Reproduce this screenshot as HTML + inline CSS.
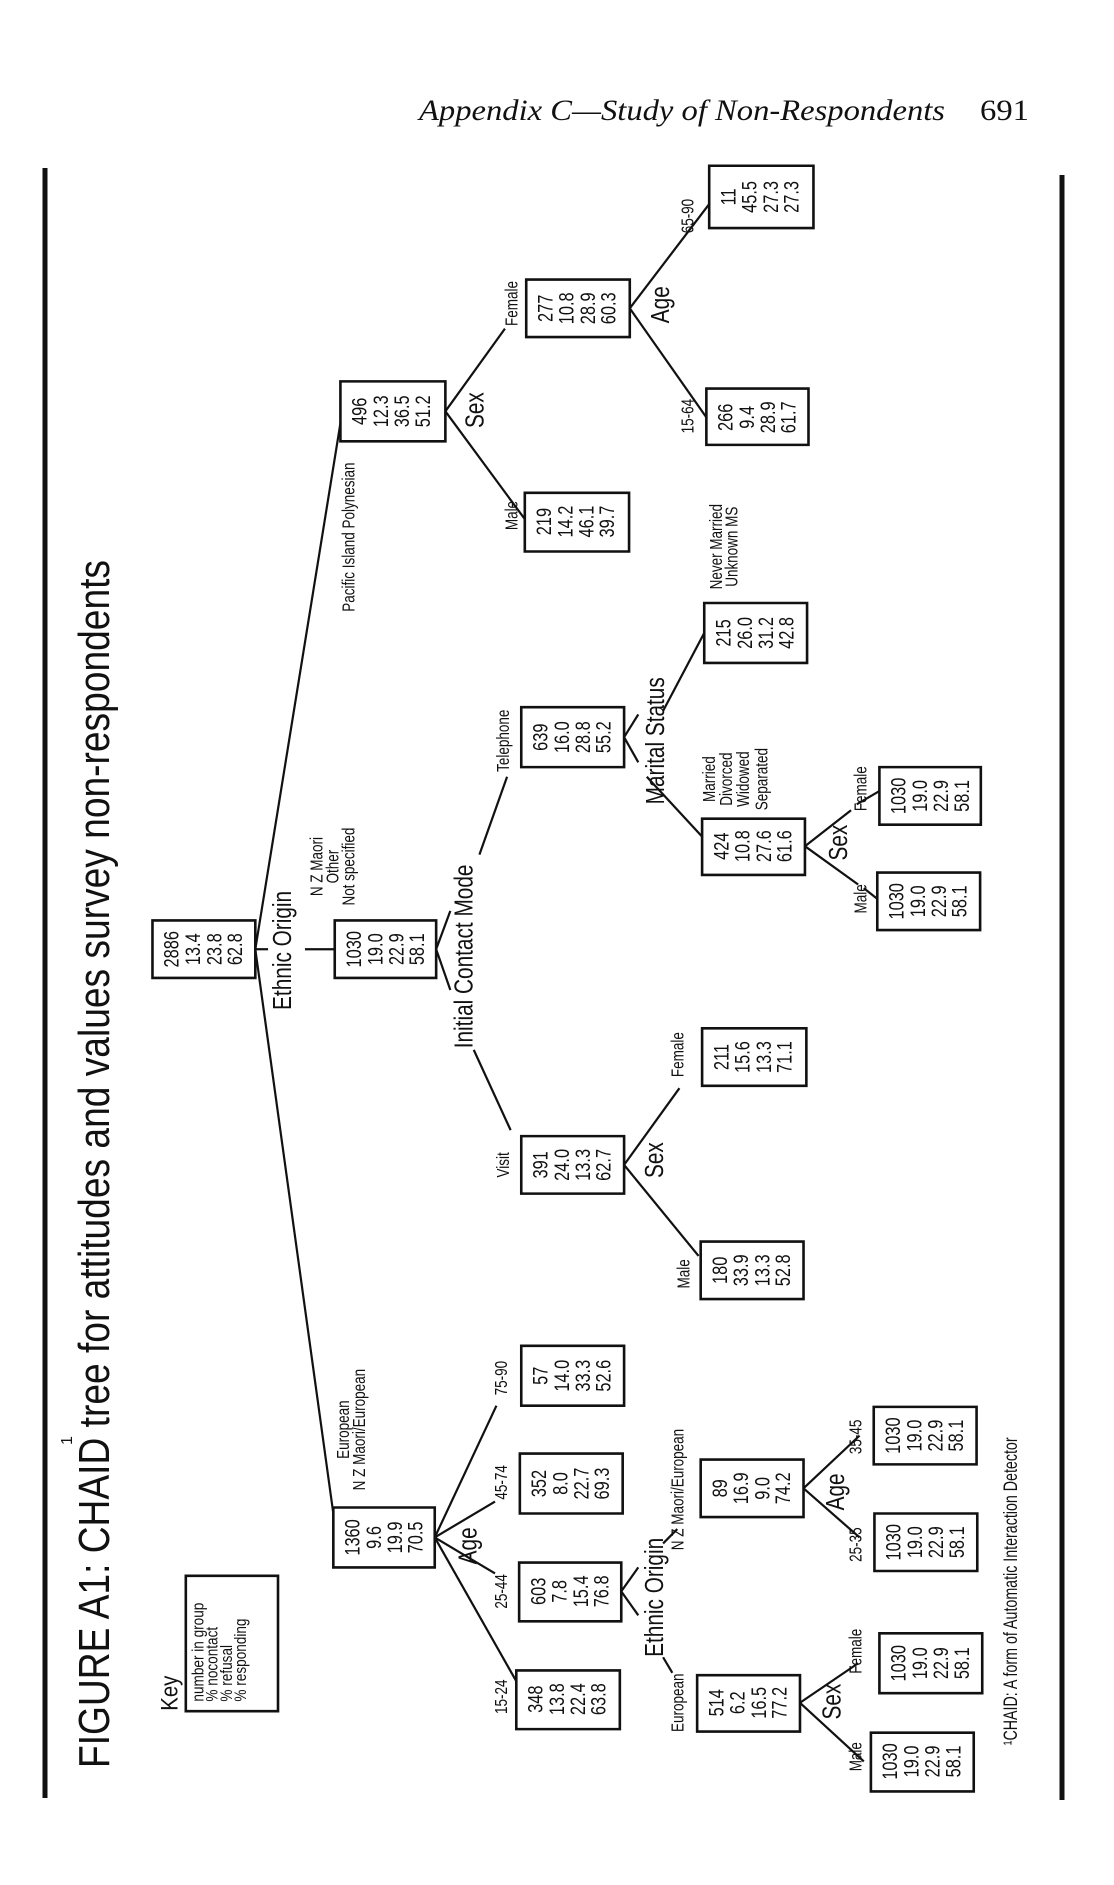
<!DOCTYPE html>
<html><head><meta charset="utf-8"><style>
html,body{margin:0;padding:0;background:#fff;}
svg{display:block;}
text{font-family:"Liberation Sans",sans-serif;fill:#111;}
.b{font-size:21px;text-anchor:middle;}
.l{font-size:18px;text-anchor:middle;}
.m{font-size:26px;text-anchor:middle;}
rect,line,polyline{fill:none;stroke:#111;vector-effect:non-scaling-stroke;}
rect{stroke-width:2.6;}
line,polyline{stroke-width:2.2;}
</style></head><body>
<svg width="1114" height="1885" viewBox="0 0 1114 1885" xmlns="http://www.w3.org/2000/svg">
<text x="419" y="120" font-style="italic" font-size="30" textLength="526" lengthAdjust="spacingAndGlyphs" style="font-family:'Liberation Serif',serif">Appendix C—Study of Non-Respondents</text>
<text x="980" y="120" font-size="30" textLength="49" lengthAdjust="spacingAndGlyphs" style="font-family:'Liberation Serif',serif">691</text>
<line x1="45" y1="168" x2="45" y2="1798" style="stroke-width:5"/>
<line x1="1062" y1="175" x2="1062" y2="1800" style="stroke-width:5"/>
<text transform="translate(109,1768) rotate(-90)" font-size="44" textLength="1208" lengthAdjust="spacingAndGlyphs">FIGURE A1: CHAID  tree for attitudes and values survey non-respondents</text>
<text transform="translate(72,1445) rotate(-90)" font-size="16">1</text>

<g transform="translate(0,10) scale(0.7092,1.198)">
<rect x="215" y="760" width="145" height="48"/>
<rect x="472" y="760" width="143" height="48"/>
<rect x="470" y="1250" width="143" height="50"/>
<rect x="480" y="310" width="148" height="50"/>
<rect x="740" y="403" width="147" height="49"/>
<rect x="742" y="225" width="146" height="48"/>
<rect x="1000" y="130" width="147" height="52"/>
<rect x="996" y="316" width="144" height="47"/>
<rect x="735" y="582" width="145" height="50"/>
<rect x="993" y="495" width="145" height="50"/>
<rect x="990" y="675" width="145" height="47"/>
<rect x="1237" y="720" width="145" height="48"/>
<rect x="1240" y="632" width="143" height="48"/>
<rect x="735" y="940" width="145" height="48"/>
<rect x="990" y="850" width="147" height="48"/>
<rect x="988" y="1028" width="145" height="48"/>
<rect x="735" y="1115" width="145" height="50"/>
<rect x="733" y="1205" width="145" height="50"/>
<rect x="732" y="1296" width="144" height="49"/>
<rect x="728" y="1386" width="146" height="49"/>
<rect x="988" y="1210" width="145" height="48"/>
<rect x="1233" y="1255" width="145" height="48"/>
<rect x="1232" y="1166" width="145" height="48"/>
<rect x="983" y="1390" width="145" height="47"/>
<rect x="1240" y="1355" width="145" height="50"/>
<rect x="1228" y="1438" width="145" height="49"/>
<rect x="262" y="1307" width="130" height="113"/>

<line x1="360" y1="784" x2="378" y2="784"/>
<line x1="430" y1="784" x2="472" y2="784"/>
<line x1="360" y1="784" x2="480" y2="345"/>
<line x1="360" y1="784" x2="470" y2="1255"/>
<line x1="615" y1="784" x2="635" y2="752"/>
<line x1="615" y1="784" x2="635" y2="818"/>
<line x1="676" y1="705" x2="715" y2="640"/>
<line x1="668" y1="868" x2="720" y2="935"/>
<line x1="628" y1="335" x2="712" y2="266"/>
<line x1="628" y1="335" x2="740" y2="425"/>
<line x1="888" y1="249" x2="1000" y2="162"/>
<line x1="888" y1="249" x2="996" y2="340"/>
<line x1="880" y1="607" x2="900" y2="588"/>
<line x1="880" y1="607" x2="900" y2="628"/>
<line x1="935" y1="585" x2="993" y2="520"/>
<line x1="912" y1="640" x2="990" y2="690"/>
<line x1="1135" y1="698" x2="1200" y2="668"/>
<line x1="1135" y1="698" x2="1210" y2="730"/>
<line x1="1208" y1="663" x2="1240" y2="652"/>
<line x1="1218" y1="733" x2="1237" y2="742"/>
<line x1="880" y1="964" x2="958" y2="900"/>
<line x1="880" y1="964" x2="985" y2="1040"/>
<line x1="613" y1="1275" x2="700" y2="1165"/>
<line x1="613" y1="1275" x2="698" y2="1245"/>
<line x1="613" y1="1275" x2="698" y2="1305"/>
<line x1="613" y1="1275" x2="728" y2="1395"/>
<line x1="876" y1="1320" x2="900" y2="1300"/>
<line x1="876" y1="1320" x2="900" y2="1340"/>
<line x1="935" y1="1280" x2="955" y2="1268"/>
<line x1="935" y1="1375" x2="948" y2="1388"/>
<line x1="1133" y1="1234" x2="1212" y2="1190"/>
<line x1="1133" y1="1234" x2="1212" y2="1275"/>
<line x1="1128" y1="1413" x2="1210" y2="1380"/>
<line x1="1128" y1="1413" x2="1218" y2="1462"/>

<g transform="translate(215,784)"><text class="b" transform="translate(37,0) scale(1.41,0.8347) rotate(-90) scale(0.78,1)">2886</text><text class="b" transform="translate(67,0) scale(1.41,0.8347) rotate(-90) scale(0.78,1)">13.4</text><text class="b" transform="translate(97,0) scale(1.41,0.8347) rotate(-90) scale(0.78,1)">23.8</text><text class="b" transform="translate(126,0) scale(1.41,0.8347) rotate(-90) scale(0.78,1)">62.8</text></g>
<g transform="translate(472,784)"><text class="b" transform="translate(37,0) scale(1.41,0.8347) rotate(-90) scale(0.78,1)">1030</text><text class="b" transform="translate(67,0) scale(1.41,0.8347) rotate(-90) scale(0.78,1)">19.0</text><text class="b" transform="translate(97,0) scale(1.41,0.8347) rotate(-90) scale(0.78,1)">22.9</text><text class="b" transform="translate(126,0) scale(1.41,0.8347) rotate(-90) scale(0.78,1)">58.1</text></g>
<g transform="translate(470,1275)"><text class="b" transform="translate(37,0) scale(1.41,0.8347) rotate(-90) scale(0.78,1)">1360</text><text class="b" transform="translate(67,0) scale(1.41,0.8347) rotate(-90) scale(0.78,1)">9.6</text><text class="b" transform="translate(97,0) scale(1.41,0.8347) rotate(-90) scale(0.78,1)">19.9</text><text class="b" transform="translate(126,0) scale(1.41,0.8347) rotate(-90) scale(0.78,1)">70.5</text></g>
<g transform="translate(480,335)"><text class="b" transform="translate(37,0) scale(1.41,0.8347) rotate(-90) scale(0.78,1)">496</text><text class="b" transform="translate(67,0) scale(1.41,0.8347) rotate(-90) scale(0.78,1)">12.3</text><text class="b" transform="translate(97,0) scale(1.41,0.8347) rotate(-90) scale(0.78,1)">36.5</text><text class="b" transform="translate(126,0) scale(1.41,0.8347) rotate(-90) scale(0.78,1)">51.2</text></g>
<g transform="translate(740,427)"><text class="b" transform="translate(37,0) scale(1.41,0.8347) rotate(-90) scale(0.78,1)">219</text><text class="b" transform="translate(67,0) scale(1.41,0.8347) rotate(-90) scale(0.78,1)">14.2</text><text class="b" transform="translate(97,0) scale(1.41,0.8347) rotate(-90) scale(0.78,1)">46.1</text><text class="b" transform="translate(126,0) scale(1.41,0.8347) rotate(-90) scale(0.78,1)">39.7</text></g>
<g transform="translate(742,249)"><text class="b" transform="translate(37,0) scale(1.41,0.8347) rotate(-90) scale(0.78,1)">277</text><text class="b" transform="translate(67,0) scale(1.41,0.8347) rotate(-90) scale(0.78,1)">10.8</text><text class="b" transform="translate(97,0) scale(1.41,0.8347) rotate(-90) scale(0.78,1)">28.9</text><text class="b" transform="translate(126,0) scale(1.41,0.8347) rotate(-90) scale(0.78,1)">60.3</text></g>
<g transform="translate(1000,156)"><text class="b" transform="translate(37,0) scale(1.41,0.8347) rotate(-90) scale(0.78,1)">11</text><text class="b" transform="translate(67,0) scale(1.41,0.8347) rotate(-90) scale(0.78,1)">45.5</text><text class="b" transform="translate(97,0) scale(1.41,0.8347) rotate(-90) scale(0.78,1)">27.3</text><text class="b" transform="translate(126,0) scale(1.41,0.8347) rotate(-90) scale(0.78,1)">27.3</text></g>
<g transform="translate(996,340)"><text class="b" transform="translate(37,0) scale(1.41,0.8347) rotate(-90) scale(0.78,1)">266</text><text class="b" transform="translate(67,0) scale(1.41,0.8347) rotate(-90) scale(0.78,1)">9.4</text><text class="b" transform="translate(97,0) scale(1.41,0.8347) rotate(-90) scale(0.78,1)">28.9</text><text class="b" transform="translate(126,0) scale(1.41,0.8347) rotate(-90) scale(0.78,1)">61.7</text></g>
<g transform="translate(735,607)"><text class="b" transform="translate(37,0) scale(1.41,0.8347) rotate(-90) scale(0.78,1)">639</text><text class="b" transform="translate(67,0) scale(1.41,0.8347) rotate(-90) scale(0.78,1)">16.0</text><text class="b" transform="translate(97,0) scale(1.41,0.8347) rotate(-90) scale(0.78,1)">28.8</text><text class="b" transform="translate(126,0) scale(1.41,0.8347) rotate(-90) scale(0.78,1)">55.2</text></g>
<g transform="translate(993,520)"><text class="b" transform="translate(37,0) scale(1.41,0.8347) rotate(-90) scale(0.78,1)">215</text><text class="b" transform="translate(67,0) scale(1.41,0.8347) rotate(-90) scale(0.78,1)">26.0</text><text class="b" transform="translate(97,0) scale(1.41,0.8347) rotate(-90) scale(0.78,1)">31.2</text><text class="b" transform="translate(126,0) scale(1.41,0.8347) rotate(-90) scale(0.78,1)">42.8</text></g>
<g transform="translate(990,698)"><text class="b" transform="translate(37,0) scale(1.41,0.8347) rotate(-90) scale(0.78,1)">424</text><text class="b" transform="translate(67,0) scale(1.41,0.8347) rotate(-90) scale(0.78,1)">10.8</text><text class="b" transform="translate(97,0) scale(1.41,0.8347) rotate(-90) scale(0.78,1)">27.6</text><text class="b" transform="translate(126,0) scale(1.41,0.8347) rotate(-90) scale(0.78,1)">61.6</text></g>
<g transform="translate(1237,744)"><text class="b" transform="translate(37,0) scale(1.41,0.8347) rotate(-90) scale(0.78,1)">1030</text><text class="b" transform="translate(67,0) scale(1.41,0.8347) rotate(-90) scale(0.78,1)">19.0</text><text class="b" transform="translate(97,0) scale(1.41,0.8347) rotate(-90) scale(0.78,1)">22.9</text><text class="b" transform="translate(126,0) scale(1.41,0.8347) rotate(-90) scale(0.78,1)">58.1</text></g>
<g transform="translate(1240,656)"><text class="b" transform="translate(37,0) scale(1.41,0.8347) rotate(-90) scale(0.78,1)">1030</text><text class="b" transform="translate(67,0) scale(1.41,0.8347) rotate(-90) scale(0.78,1)">19.0</text><text class="b" transform="translate(97,0) scale(1.41,0.8347) rotate(-90) scale(0.78,1)">22.9</text><text class="b" transform="translate(126,0) scale(1.41,0.8347) rotate(-90) scale(0.78,1)">58.1</text></g>
<g transform="translate(735,964)"><text class="b" transform="translate(37,0) scale(1.41,0.8347) rotate(-90) scale(0.78,1)">391</text><text class="b" transform="translate(67,0) scale(1.41,0.8347) rotate(-90) scale(0.78,1)">24.0</text><text class="b" transform="translate(97,0) scale(1.41,0.8347) rotate(-90) scale(0.78,1)">13.3</text><text class="b" transform="translate(126,0) scale(1.41,0.8347) rotate(-90) scale(0.78,1)">62.7</text></g>
<g transform="translate(990,874)"><text class="b" transform="translate(37,0) scale(1.41,0.8347) rotate(-90) scale(0.78,1)">211</text><text class="b" transform="translate(67,0) scale(1.41,0.8347) rotate(-90) scale(0.78,1)">15.6</text><text class="b" transform="translate(97,0) scale(1.41,0.8347) rotate(-90) scale(0.78,1)">13.3</text><text class="b" transform="translate(126,0) scale(1.41,0.8347) rotate(-90) scale(0.78,1)">71.1</text></g>
<g transform="translate(988,1052)"><text class="b" transform="translate(37,0) scale(1.41,0.8347) rotate(-90) scale(0.78,1)">180</text><text class="b" transform="translate(67,0) scale(1.41,0.8347) rotate(-90) scale(0.78,1)">33.9</text><text class="b" transform="translate(97,0) scale(1.41,0.8347) rotate(-90) scale(0.78,1)">13.3</text><text class="b" transform="translate(126,0) scale(1.41,0.8347) rotate(-90) scale(0.78,1)">52.8</text></g>
<g transform="translate(735,1140)"><text class="b" transform="translate(37,0) scale(1.41,0.8347) rotate(-90) scale(0.78,1)">57</text><text class="b" transform="translate(67,0) scale(1.41,0.8347) rotate(-90) scale(0.78,1)">14.0</text><text class="b" transform="translate(97,0) scale(1.41,0.8347) rotate(-90) scale(0.78,1)">33.3</text><text class="b" transform="translate(126,0) scale(1.41,0.8347) rotate(-90) scale(0.78,1)">52.6</text></g>
<g transform="translate(733,1230)"><text class="b" transform="translate(37,0) scale(1.41,0.8347) rotate(-90) scale(0.78,1)">352</text><text class="b" transform="translate(67,0) scale(1.41,0.8347) rotate(-90) scale(0.78,1)">8.0</text><text class="b" transform="translate(97,0) scale(1.41,0.8347) rotate(-90) scale(0.78,1)">22.7</text><text class="b" transform="translate(126,0) scale(1.41,0.8347) rotate(-90) scale(0.78,1)">69.3</text></g>
<g transform="translate(732,1320)"><text class="b" transform="translate(37,0) scale(1.41,0.8347) rotate(-90) scale(0.78,1)">603</text><text class="b" transform="translate(67,0) scale(1.41,0.8347) rotate(-90) scale(0.78,1)">7.8</text><text class="b" transform="translate(97,0) scale(1.41,0.8347) rotate(-90) scale(0.78,1)">15.4</text><text class="b" transform="translate(126,0) scale(1.41,0.8347) rotate(-90) scale(0.78,1)">76.8</text></g>
<g transform="translate(728,1410)"><text class="b" transform="translate(37,0) scale(1.41,0.8347) rotate(-90) scale(0.78,1)">348</text><text class="b" transform="translate(67,0) scale(1.41,0.8347) rotate(-90) scale(0.78,1)">13.8</text><text class="b" transform="translate(97,0) scale(1.41,0.8347) rotate(-90) scale(0.78,1)">22.4</text><text class="b" transform="translate(126,0) scale(1.41,0.8347) rotate(-90) scale(0.78,1)">63.8</text></g>
<g transform="translate(988,1234)"><text class="b" transform="translate(37,0) scale(1.41,0.8347) rotate(-90) scale(0.78,1)">89</text><text class="b" transform="translate(67,0) scale(1.41,0.8347) rotate(-90) scale(0.78,1)">16.9</text><text class="b" transform="translate(97,0) scale(1.41,0.8347) rotate(-90) scale(0.78,1)">9.0</text><text class="b" transform="translate(126,0) scale(1.41,0.8347) rotate(-90) scale(0.78,1)">74.2</text></g>
<g transform="translate(1233,1279)"><text class="b" transform="translate(37,0) scale(1.41,0.8347) rotate(-90) scale(0.78,1)">1030</text><text class="b" transform="translate(67,0) scale(1.41,0.8347) rotate(-90) scale(0.78,1)">19.0</text><text class="b" transform="translate(97,0) scale(1.41,0.8347) rotate(-90) scale(0.78,1)">22.9</text><text class="b" transform="translate(126,0) scale(1.41,0.8347) rotate(-90) scale(0.78,1)">58.1</text></g>
<g transform="translate(1232,1190)"><text class="b" transform="translate(37,0) scale(1.41,0.8347) rotate(-90) scale(0.78,1)">1030</text><text class="b" transform="translate(67,0) scale(1.41,0.8347) rotate(-90) scale(0.78,1)">19.0</text><text class="b" transform="translate(97,0) scale(1.41,0.8347) rotate(-90) scale(0.78,1)">22.9</text><text class="b" transform="translate(126,0) scale(1.41,0.8347) rotate(-90) scale(0.78,1)">58.1</text></g>
<g transform="translate(983,1413)"><text class="b" transform="translate(37,0) scale(1.41,0.8347) rotate(-90) scale(0.78,1)">514</text><text class="b" transform="translate(67,0) scale(1.41,0.8347) rotate(-90) scale(0.78,1)">6.2</text><text class="b" transform="translate(97,0) scale(1.41,0.8347) rotate(-90) scale(0.78,1)">16.5</text><text class="b" transform="translate(126,0) scale(1.41,0.8347) rotate(-90) scale(0.78,1)">77.2</text></g>
<g transform="translate(1240,1380)"><text class="b" transform="translate(37,0) scale(1.41,0.8347) rotate(-90) scale(0.78,1)">1030</text><text class="b" transform="translate(67,0) scale(1.41,0.8347) rotate(-90) scale(0.78,1)">19.0</text><text class="b" transform="translate(97,0) scale(1.41,0.8347) rotate(-90) scale(0.78,1)">22.9</text><text class="b" transform="translate(126,0) scale(1.41,0.8347) rotate(-90) scale(0.78,1)">58.1</text></g>
<g transform="translate(1228,1462)"><text class="b" transform="translate(37,0) scale(1.41,0.8347) rotate(-90) scale(0.78,1)">1030</text><text class="b" transform="translate(67,0) scale(1.41,0.8347) rotate(-90) scale(0.78,1)">19.0</text><text class="b" transform="translate(97,0) scale(1.41,0.8347) rotate(-90) scale(0.78,1)">22.9</text><text class="b" transform="translate(126,0) scale(1.41,0.8347) rotate(-90) scale(0.78,1)">58.1</text></g>

<g transform="translate(262,1412)">
<text style="font-size:17px" transform="translate(25,0) scale(1.41,0.8347) rotate(-90) scale(0.8,1)">number in group</text>
<text style="font-size:17px" transform="translate(45,0) scale(1.41,0.8347) rotate(-90) scale(0.8,1)">% nocontact</text>
<text style="font-size:17px" transform="translate(65,0) scale(1.41,0.8347) rotate(-90) scale(0.8,1)">% refusal</text>
<text style="font-size:17px" transform="translate(85,0) scale(1.41,0.8347) rotate(-90) scale(0.8,1)">% responding</text>
</g>
<text class="m" style="font-size:24px" transform="translate(250,1405) scale(1.41,0.8347) rotate(-90) scale(0.85,1)">Key</text>

<text class="m" transform="translate(410,785) scale(1.41,0.8347) rotate(-90) scale(0.8,1)">Ethnic Origin</text>
<text class="m" transform="translate(666,790) scale(1.41,0.8347) rotate(-90) scale(0.8,1)">Initial Contact Mode</text>
<text class="m" transform="translate(682,334) scale(1.41,0.8347) rotate(-90) scale(0.8,1)">Sex</text>
<text class="m" transform="translate(943,246) scale(1.41,0.8347) rotate(-90) scale(0.8,1)">Age</text>
<text class="m" transform="translate(936,610) scale(1.41,0.8347) rotate(-90) scale(0.8,1)">Marital Status</text>
<text class="m" transform="translate(1194,695) scale(1.41,0.8347) rotate(-90) scale(0.8,1)">Sex</text>
<text class="m" transform="translate(935,960) scale(1.41,0.8347) rotate(-90) scale(0.8,1)">Sex</text>
<text class="m" transform="translate(672,1282) scale(1.41,0.8347) rotate(-90) scale(0.8,1)">Age</text>
<text class="m" transform="translate(935,1325) scale(1.41,0.8347) rotate(-90) scale(0.8,1)">Ethnic Origin</text>
<text class="m" transform="translate(1190,1237) scale(1.41,0.8347) rotate(-90) scale(0.8,1)">Age</text>
<text class="m" transform="translate(1185,1412) scale(1.41,0.8347) rotate(-90) scale(0.8,1)">Sex</text>

<text class="l" transform="translate(455,715) scale(1.41,0.8347) rotate(-90) scale(0.75,1)">N Z Maori</text>
<text class="l" transform="translate(477,715) scale(1.41,0.8347) rotate(-90) scale(0.75,1)">Other</text>
<text class="l" transform="translate(500,715) scale(1.41,0.8347) rotate(-90) scale(0.75,1)">Not specified</text>
<text class="l" transform="translate(492,1185) scale(1.41,0.8347) rotate(-90) scale(0.75,1)">European</text>
<text class="l" transform="translate(515,1185) scale(1.41,0.8347) rotate(-90) scale(0.75,1)">N Z Maori/European</text>
<text class="l" transform="translate(500,440) scale(1.41,0.8347) rotate(-90) scale(0.75,1)">Pacific Island Polynesian</text>
<text class="l" transform="translate(718,610) scale(1.41,0.8347) rotate(-90) scale(0.75,1)">Telephone</text>
<text class="l" transform="translate(718,964) scale(1.41,0.8347) rotate(-90) scale(0.75,1)">Visit</text>
<text class="l" transform="translate(730,245) scale(1.41,0.8347) rotate(-90) scale(0.75,1)">Female</text>
<text class="l" transform="translate(730,422) scale(1.41,0.8347) rotate(-90) scale(0.75,1)">Male</text>
<text class="l" transform="translate(978,172) scale(1.41,0.8347) rotate(-90) scale(0.75,1)">65-90</text>
<text class="l" transform="translate(978,339) scale(1.41,0.8347) rotate(-90) scale(0.75,1)">15-64</text>
<text class="l" transform="translate(1018,448) scale(1.41,0.8347) rotate(-90) scale(0.75,1)">Never Married</text>
<text class="l" transform="translate(1040,448) scale(1.41,0.8347) rotate(-90) scale(0.75,1)">Unknown MS</text>
<text class="l" transform="translate(1008,642) scale(1.41,0.8347) rotate(-90) scale(0.75,1)">Married</text>
<text class="l" transform="translate(1032,642) scale(1.41,0.8347) rotate(-90) scale(0.75,1)">Divorced</text>
<text class="l" transform="translate(1056,642) scale(1.41,0.8347) rotate(-90) scale(0.75,1)">Widowed</text>
<text class="l" transform="translate(1082,642) scale(1.41,0.8347) rotate(-90) scale(0.75,1)">Separated</text>
<text class="l" transform="translate(1222,650) scale(1.41,0.8347) rotate(-90) scale(0.75,1)">Female</text>
<text class="l" transform="translate(1222,742) scale(1.41,0.8347) rotate(-90) scale(0.75,1)">Male</text>
<text class="l" transform="translate(964,872) scale(1.41,0.8347) rotate(-90) scale(0.75,1)">Female</text>
<text class="l" transform="translate(972,1055) scale(1.41,0.8347) rotate(-90) scale(0.75,1)">Male</text>
<text class="l" transform="translate(715,1142) scale(1.41,0.8347) rotate(-90) scale(0.75,1)">75-90</text>
<text class="l" transform="translate(715,1229) scale(1.41,0.8347) rotate(-90) scale(0.75,1)">45-74</text>
<text class="l" transform="translate(715,1320) scale(1.41,0.8347) rotate(-90) scale(0.75,1)">25-44</text>
<text class="l" transform="translate(715,1408) scale(1.41,0.8347) rotate(-90) scale(0.75,1)">15-24</text>
<text class="l" transform="translate(964,1235) scale(1.41,0.8347) rotate(-90) scale(0.75,1)">N Z Maori/European</text>
<text class="l" transform="translate(964,1413) scale(1.41,0.8347) rotate(-90) scale(0.75,1)">European</text>
<text class="l" transform="translate(1215,1191) scale(1.41,0.8347) rotate(-90) scale(0.75,1)">35-45</text>
<text class="l" transform="translate(1215,1281) scale(1.41,0.8347) rotate(-90) scale(0.75,1)">25-35</text>
<text class="l" transform="translate(1215,1370) scale(1.41,0.8347) rotate(-90) scale(0.75,1)">Female</text>
<text class="l" transform="translate(1215,1458) scale(1.41,0.8347) rotate(-90) scale(0.75,1)">Male</text>
<text class="l" style="font-size:19px" transform="translate(1434,1320) scale(1.41,0.8347) rotate(-90) scale(0.75,1)">¹CHAID: A form of Automatic Interaction Detector</text>
</g>
</svg>
</body></html>
